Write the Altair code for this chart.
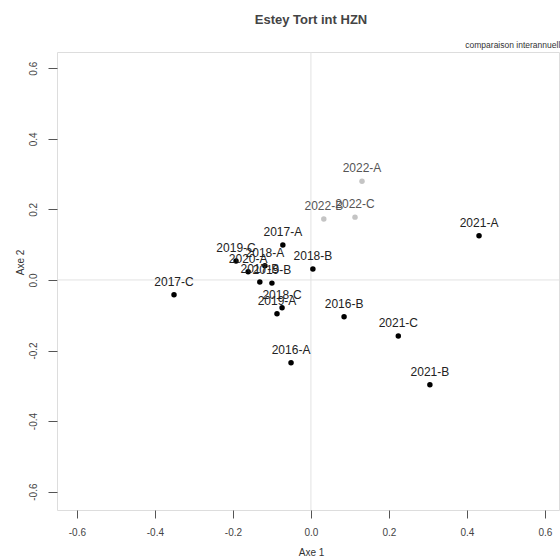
import altair as alt
import pandas as pd

# Factorial map: campaigns (year-season) on the first two axes
labels = ["2016-A", "2016-B", "2017-A", "2017-B", "2017-C", "2018-A", "2018-B",
          "2018-C", "2019-A", "2019-B", "2019-C", "2020-A", "2021-A", "2021-B",
          "2021-C", "2022-A", "2022-B", "2022-C"]
axe1 = [-0.051, 0.085, -0.072, -0.131, -0.351, -0.118, 0.005,
        -0.074, -0.087, -0.100, -0.192, -0.161, 0.431, 0.305,
        0.224, 0.131, 0.033, 0.113]
axe2 = [-0.235, -0.104, 0.099, -0.006, -0.042, 0.040, 0.031,
        -0.079, -0.096, -0.009, 0.054, 0.023, 0.125, -0.297,
        -0.159, 0.280, 0.173, 0.178]
groups = ["passe"] * 15 + ["recent"] * 3

tick_values = [-0.6, -0.4, -0.2, 0.0, 0.2, 0.4, 0.6]
title_text = "Estey Tort int HZN"
subtitle_text = "comparaison interannuelle"

df = pd.DataFrame({"label": labels, "axe1": axe1, "axe2": axe2, "groupe": groups})

FONT = "Liberation Sans"
W, H = 502, 458

label_expr = "(datum.value < 0 ? '-' : '') + format(abs(datum.value), '.1f')"

x_scale = alt.Scale(domain=[-0.651, 0.636], nice=False, zero=False)
y_scale = alt.Scale(domain=[-0.652, 0.646], nice=False, zero=False)

x_axis = alt.Axis(values=tick_values, labelExpr=label_expr, grid=False, domain=False,
                  tickSize=8, tickColor="#555", labelFontSize=10, labelColor="#444",
                  labelFont=FONT, labelPadding=9, title="Axe 1", titleFont=FONT,
                  titleFontSize=10, titleFontWeight="normal", titleColor="#333",
                  titleX=254, titleY=45, titleBaseline="alphabetic")
y_axis = alt.Axis(values=tick_values, labelExpr=label_expr, grid=False, domain=False,
                  tickSize=9, tickColor="#555", labelFontSize=10, labelColor="#444",
                  labelFont=FONT, labelAngle=270, labelAlign="center",
                  labelBaseline="alphabetic", labelPadding=12, title="Axe 2",
                  titleFont=FONT, titleFontSize=10, titleFontWeight="normal",
                  titleColor="#333", titleX=-34, titleY=210, titleBaseline="alphabetic")

base = alt.Chart(df)

zero_lines = pd.DataFrame({"v": [0.0]})
vline = alt.Chart(zero_lines).mark_rule(color="#e2e2e2", strokeWidth=1).encode(
    x=alt.X("v:Q", scale=x_scale, axis=x_axis))
hline = alt.Chart(zero_lines).mark_rule(color="#e2e2e2", strokeWidth=1).encode(
    y=alt.Y("v:Q", scale=y_scale, axis=y_axis))

color_scale = alt.Scale(domain=["passe", "recent"], range=["#000000", "#c4c4c4"])
text_scale = alt.Scale(domain=["passe", "recent"], range=["#222222", "#555555"])

points = base.mark_circle(size=30, opacity=1).encode(
    x=alt.X("axe1:Q", scale=x_scale, axis=x_axis),
    y=alt.Y("axe2:Q", scale=y_scale, axis=y_axis),
    color=alt.Color("groupe:N", scale=color_scale, legend=None),
)

texts = base.mark_text(fontSize=12, font=FONT, dy=-13, baseline="middle").encode(
    x=alt.X("axe1:Q", scale=x_scale),
    y=alt.Y("axe2:Q", scale=y_scale),
    text="label:N",
    color=alt.Color("groupe:N", scale=text_scale, legend=None),
)

# Main title and the small right-aligned caption above the frame
title = alt.Chart(pd.DataFrame({"t": [title_text]})).mark_text(
    align="center", baseline="alphabetic", fontSize=13, fontWeight="bold",
    font=FONT, color="#444"
).encode(text="t:N", x=alt.value(254), y=alt.value(-28))

subtitle = alt.Chart(pd.DataFrame({"t": [subtitle_text]})).mark_text(
    align="right", baseline="alphabetic", fontSize=8.5, font=FONT, color="#333"
).encode(text="t:N", x=alt.value(508), y=alt.value(-4))

chart = alt.layer(vline, hline, points, texts, title, subtitle).resolve_scale(
    color="independent"
).properties(
    width=W, height=H,
    autosize=alt.AutoSizeParams(type="none"),
    padding={"left": 57, "top": 52, "right": 1, "bottom": 47},
).configure_view(stroke="#666", strokeWidth=1.2).configure(background="white")

chart.save("out.html", embed_options={"renderer": "svg", "actions": False})
